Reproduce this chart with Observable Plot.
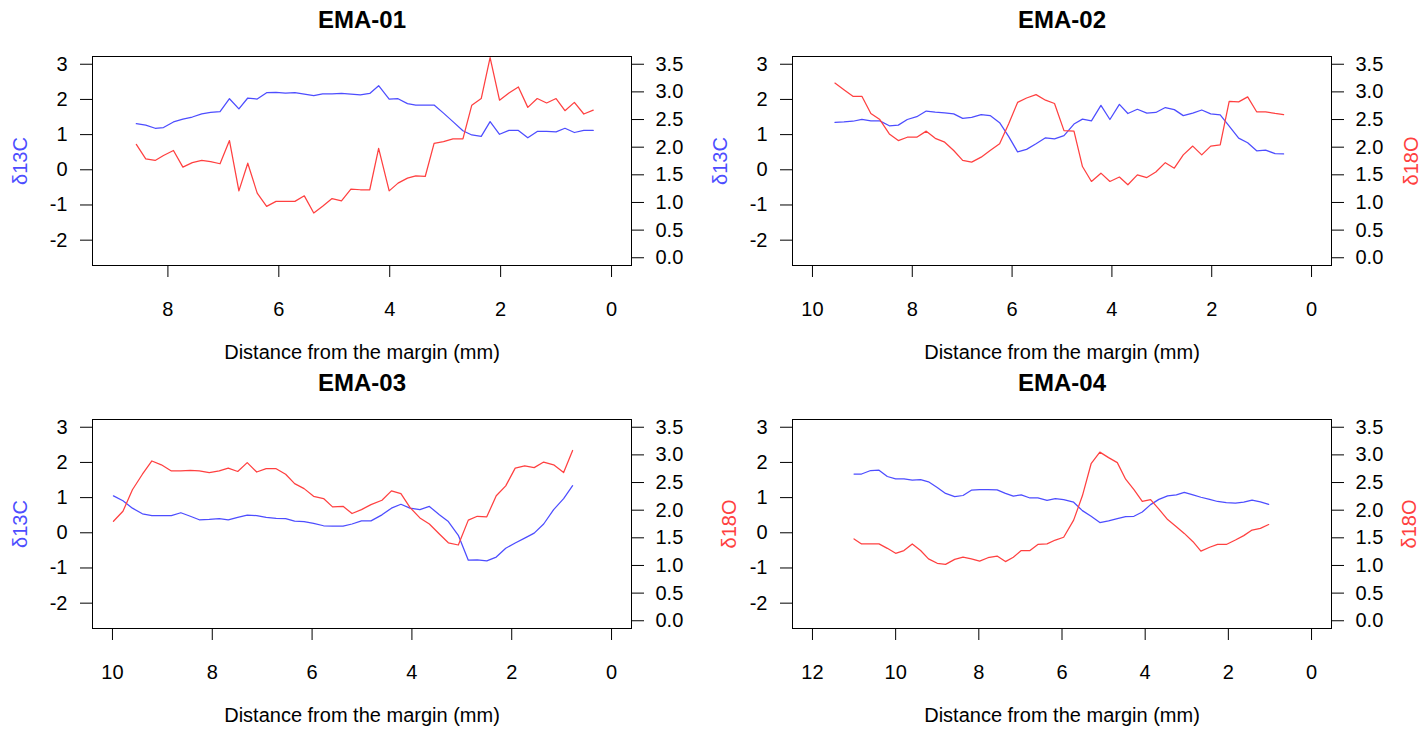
<!DOCTYPE html>
<html>
<head>
<meta charset="utf-8">
<script src="https://cdn.jsdelivr.net/npm/d3@7"></script>
<script src="https://cdn.jsdelivr.net/npm/@observablehq/plot@0.6"></script>
<style>
  html, body { margin: 0; padding: 0; background: #ffffff; }
  #root { position: relative; width: 1428px; height: 731px; overflow: hidden; background: #ffffff; }
  .layer { position: absolute; }
</style>
</head>
<body>
<div id="root"></div>
<script>
// ---------- data ----------
const panelTitles = ["EMA-01", "EMA-02", "EMA-03", "EMA-04"];
const xAxisTitle = "Distance from the margin (mm)";
const leftAxisTitle = "δ13C";
const rightAxisTitle = "δ18O";

const ema01_x = [8.57,8.40,8.23,8.08,7.90,7.73,7.56,7.39,7.23,7.06,6.89,6.72,6.56,6.39,6.22,6.05,5.88,5.71,5.54,5.37,5.21,5.04,4.87,4.70,4.53,4.36,4.20,4.01,3.85,3.68,3.53,3.36,3.20,3.03,2.86,2.68,2.52,2.35,2.19,2.02,1.85,1.68,1.51,1.34,1.17,1.00,0.84,0.67,0.50,0.33];
const ema01_c13 = [1.31,1.27,1.18,1.20,1.36,1.44,1.50,1.59,1.63,1.65,2.02,1.73,2.04,2.01,2.19,2.20,2.18,2.19,2.15,2.11,2.16,2.16,2.17,2.15,2.13,2.17,2.39,2.01,2.02,1.88,1.84,1.84,1.84,1.61,1.37,1.11,0.99,0.95,1.37,1.01,1.12,1.12,0.91,1.09,1.09,1.08,1.18,1.06,1.12,1.12];
const ema01_o18 = [2.05,1.79,1.76,1.85,1.94,1.64,1.72,1.76,1.74,1.70,2.12,1.21,1.71,1.17,0.93,1.02,1.02,1.02,1.12,0.81,0.93,1.07,1.03,1.24,1.23,1.23,1.98,1.21,1.35,1.44,1.48,1.47,2.07,2.10,2.15,2.15,2.76,2.88,3.62,2.85,2.98,3.09,2.72,2.88,2.80,2.88,2.66,2.81,2.60,2.67];

const ema02_x = [9.55,9.37,9.19,9.01,8.83,8.65,8.46,8.28,8.10,7.91,7.72,7.54,7.35,7.17,6.99,6.81,6.62,6.44,6.25,6.07,5.89,5.71,5.52,5.33,5.15,4.96,4.76,4.59,4.41,4.22,4.04,3.85,3.68,3.49,3.30,3.12,2.93,2.75,2.57,2.38,2.20,2.02,1.83,1.65,1.46,1.28,1.10,0.92,0.73,0.56];
const ema02_c13 = [1.35,1.36,1.38,1.43,1.39,1.39,1.25,1.27,1.43,1.51,1.67,1.64,1.62,1.59,1.46,1.49,1.57,1.54,1.34,0.95,0.51,0.58,0.74,0.91,0.88,0.97,1.30,1.44,1.39,1.83,1.43,1.86,1.60,1.72,1.61,1.63,1.77,1.71,1.54,1.61,1.70,1.59,1.56,1.24,0.90,0.77,0.54,0.56,0.46,0.45];
const ema02_o18 = [3.16,3.04,2.92,2.92,2.61,2.50,2.24,2.12,2.18,2.18,2.29,2.16,2.09,1.94,1.76,1.73,1.82,1.94,2.06,2.42,2.81,2.89,2.95,2.85,2.79,2.30,2.29,1.65,1.38,1.53,1.38,1.46,1.32,1.50,1.45,1.55,1.72,1.62,1.86,2.02,1.86,2.02,2.04,2.83,2.82,2.91,2.64,2.64,2.61,2.59];

const ema03_x = [9.98,9.79,9.60,9.40,9.21,9.02,8.82,8.63,8.44,8.26,8.06,7.86,7.68,7.49,7.30,7.11,6.92,6.72,6.53,6.35,6.16,5.97,5.77,5.59,5.38,5.20,5.01,4.82,4.60,4.41,4.22,4.04,3.84,3.65,3.45,3.27,3.07,2.87,2.69,2.50,2.31,2.12,1.93,1.74,1.55,1.36,1.16,0.96,0.78];
const ema03_c13 = [1.05,0.91,0.70,0.54,0.49,0.49,0.49,0.57,0.47,0.37,0.38,0.40,0.37,0.44,0.50,0.49,0.44,0.41,0.40,0.33,0.32,0.27,0.20,0.19,0.19,0.25,0.34,0.34,0.51,0.70,0.81,0.70,0.66,0.75,0.51,0.32,-0.07,-0.78,-0.77,-0.80,-0.69,-0.44,-0.29,-0.15,-0.01,0.25,0.66,0.97,1.34];
const ema03_o18 = [1.80,1.98,2.37,2.65,2.89,2.82,2.71,2.71,2.72,2.71,2.68,2.71,2.76,2.70,2.86,2.69,2.75,2.75,2.65,2.48,2.39,2.25,2.21,2.06,2.07,1.94,2.01,2.10,2.18,2.35,2.30,2.05,1.86,1.75,1.57,1.41,1.37,1.82,1.89,1.88,2.26,2.44,2.76,2.80,2.77,2.87,2.82,2.68,3.08];

const ema04_x = [11.00,10.82,10.60,10.40,10.20,10.00,9.80,9.60,9.40,9.21,9.00,8.80,8.58,8.38,8.18,7.98,7.78,7.56,7.36,7.17,6.98,6.77,6.58,6.36,6.16,5.96,5.72,5.51,5.30,5.09,4.88,4.67,4.47,4.27,4.07,3.87,3.67,3.46,3.25,3.06,2.85,2.66,2.45,2.26,2.05,1.83,1.63,1.43,1.23,1.03];
const ema04_c13 = [1.67,1.67,1.77,1.78,1.60,1.53,1.53,1.50,1.51,1.45,1.29,1.12,1.03,1.06,1.21,1.23,1.23,1.22,1.12,1.04,1.08,0.99,0.99,0.92,0.97,0.94,0.87,0.63,0.47,0.29,0.34,0.40,0.46,0.47,0.59,0.80,0.95,1.05,1.08,1.15,1.08,1.01,0.95,0.89,0.86,0.84,0.87,0.93,0.88,0.81];
const ema04_o18 = [1.48,1.39,1.39,1.39,1.31,1.22,1.27,1.39,1.27,1.12,1.04,1.02,1.11,1.15,1.12,1.08,1.14,1.17,1.07,1.15,1.27,1.27,1.38,1.39,1.46,1.51,1.82,2.26,2.84,3.05,2.95,2.86,2.56,2.37,2.16,2.19,2.02,1.83,1.70,1.58,1.43,1.26,1.33,1.38,1.38,1.46,1.54,1.64,1.67,1.74];

// axis limits and tick values
const xlim01 = [9, 0];
const xlim02 = [10, 0];
const xlim03 = [10, 0];
const xlim04 = [12, 0];
const xticks01 = [8, 6, 4, 2, 0];
const xticks02 = [10, 8, 6, 4, 2, 0];
const xticks03 = [10, 8, 6, 4, 2, 0];
const xticks04 = [12, 10, 8, 6, 4, 2, 0];
const ylimLeft = [-2.5, 3];
const yticksLeft = [-2, -1, 0, 1, 2, 3];
const ylimRight = [0, 3.5];
const yticksRight = [0, 0.5, 1, 1.5, 2, 2.5, 3, 3.5];

// ---------- drawing ----------
const FONT = '"Liberation Sans", Arial, Helvetica, sans-serif';
const BLUE = "#4d4dff";
const RED = "#ff4040";
const W = 714, H = 368;
const M = {top: 56, right: 83, bottom: H - 265, left: 92};

// R-style 4% axis extension
function ext(lim) { const d = (lim[1] - lim[0]) * 0.04; return [lim[0] - d, lim[1] + d]; }
function rows(xs, ys) { return xs.map((x, i) => ({x, v: ys[i]})); }

const panels = [
  {title: panelTitles[0], x: ema01_x, c: ema01_c13, o: ema01_o18, xlim: xlim01, xt: xticks01, left: 0,   top: 0,   lLab: true,  rLab: false, rdx: 80},
  {title: panelTitles[1], x: ema02_x, c: ema02_c13, o: ema02_o18, xlim: xlim02, xt: xticks02, left: 700, top: 0,   lLab: true,  rLab: true,  rdx: 80},
  {title: panelTitles[2], x: ema03_x, c: ema03_c13, o: ema03_o18, xlim: xlim03, xt: xticks03, left: 0,   top: 363, lLab: true,  rLab: true,  rdx: 98},
  {title: panelTitles[3], x: ema04_x, c: ema04_c13, o: ema04_o18, xlim: xlim04, xt: xticks04, left: 700, top: 363, lLab: false, rLab: true,  rdx: 78}
];

const root = document.getElementById("root");
const baseStyle = {fontFamily: FONT, fontSize: "20px", color: "black", background: "transparent", overflow: "visible"};

for (const p of panels) {
  const leftPlot = Plot.plot({
    width: W, height: H,
    marginTop: M.top, marginRight: M.right, marginBottom: M.bottom, marginLeft: M.left,
    style: baseStyle,
    x: {domain: ext(p.xlim)},
    y: {domain: ext(ylimLeft)},
    marks: [
      Plot.axisX({ticks: p.xt, tickSize: 12, tickPadding: 24, fontSize: 20, label: null, tickFormat: d => String(d)}),
      Plot.axisY({ticks: yticksLeft, tickSize: 12, tickPadding: 13, fontSize: 20, label: null, tickFormat: d => String(d)}),
      Plot.line(rows(p.x, p.c), {x: "x", y: "v", stroke: BLUE, strokeWidth: 1.25}),
      Plot.frame({stroke: "black", strokeWidth: 1}),
      Plot.text([p.title], {frameAnchor: "top", lineAnchor: "middle", dy: -36, fontWeight: "bold", fontSize: 24, fill: "black"}),
      Plot.text([xAxisTitle], {frameAnchor: "bottom", lineAnchor: "middle", dy: 87, fontSize: 20, fill: "black"}),
      p.lLab ? Plot.text([leftAxisTitle], {frameAnchor: "left", textAnchor: "middle", lineAnchor: "middle", dx: -72, rotate: -90, fontSize: 20, fill: BLUE}) : null
    ]
  });
  const rightPlot = Plot.plot({
    width: W, height: H,
    marginTop: M.top, marginRight: M.right, marginBottom: M.bottom, marginLeft: M.left,
    style: baseStyle,
    x: {domain: ext(p.xlim), axis: null},
    y: {domain: ext(ylimRight)},
    marks: [
      Plot.axisY({anchor: "right", ticks: yticksRight, tickSize: 12, tickPadding: 12, fontSize: 20, label: null, tickFormat: d => d.toFixed(1)}),
      Plot.line(rows(p.x, p.o), {x: "x", y: "v", stroke: RED, strokeWidth: 1.25}),
      p.rLab ? Plot.text([rightAxisTitle], {frameAnchor: "right", textAnchor: "middle", lineAnchor: "middle", dx: p.rdx, rotate: -90, fontSize: 20, fill: RED}) : null
    ]
  });
  for (const svg of [leftPlot, rightPlot]) {
    svg.classList.add("layer");
    svg.style.left = p.left + "px";
    svg.style.top = p.top + "px";
    svg.style.overflow = "visible";
    root.appendChild(svg);
  }
}
</script>
</body>
</html>
